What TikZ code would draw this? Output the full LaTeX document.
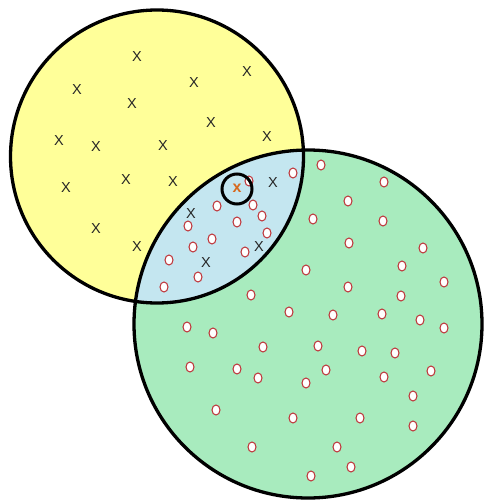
\documentclass[tikz,border=0pt]{standalone}
\usepackage{fontspec}
\setmainfont{Liberation Sans}
\usetikzlibrary{shapes.geometric}
\definecolor{setA}{RGB}{255,255,153}
\definecolor{setB}{RGB}{168,235,190}
\definecolor{setAB}{RGB}{196,230,240}
\definecolor{omark}{RGB}{190,50,55}
\definecolor{xorange}{RGB}{215,105,30}
\begin{document}
\begin{tikzpicture}[x=1pt,y=-1pt,
  xmark/.style={inner sep=0pt,text=black!85,font=\fontsize{14.5}{14.5}\selectfont},
  omk/.style={ellipse,draw=omark,fill=white,line width=1pt,minimum width=8pt,minimum height=10pt,inner sep=0pt},
  ring/.style={line width=3.3pt,draw=black}]
\useasboundingbox (0,0) rectangle (484,503);
\fill[white] (0,0) rectangle (484,503);
\coordinate (ca) at (157,156.5);
\coordinate (cb) at (308,324);
\fill[setA] (ca) circle (146.5);
\fill[setB] (cb) circle (174);
\begin{scope}
  \clip (ca) circle (146.5);
  \fill[setAB] (cb) circle (174);
\end{scope}
\draw[ring] (ca) circle (146.5);
\draw[ring] (cb) circle (174);
% X marks
\foreach \p [count=\i] in {(137,57),(77,90),(132,104),(194,83),(247,72),(211,123),(267,137),(59,141),(96,147),(163,146),(66,188),(126,180),(173,182),(96,229),(137,247),(273,183),(191,214),(206,263),(259,247)}
  \node[xmark] (x\i) at \p {X};
% O marks
\foreach \p [count=\i] in {(249,181),(217,206),(253,205),(262,216),(237,222),(188,226),(267,233),(212,239),(193,247),(245,252),(169,260),(198,277),(164,287),(293,173),
(321,165),(384,182),(348,201),(313,219),(383,221),(349,243),(423,248),(306,270),(402,266),(444,282),(251,295),(348,287),(401,296),(289,312),(333,315),(382,314),(420,320),(444,328),(187,327),(213,333),(263,347),(318,346),(362,351),(395,353),(190,367),(237,369),(258,378),(326,370),(306,383),(384,377),(431,371),(413,396),(216,410),(293,418),(360,418),(413,426),(252,447),(337,447),(351,467),(311,476)}
  \node[omk] (o\i) at \p {};
% highlighted point
\node[inner sep=0pt,text=xorange,font=\bfseries\fontsize{16}{16}\selectfont] (q) at (237,188) {x};
\node[circle,draw=black,line width=3pt,minimum size=30pt,inner sep=0pt] (qc) at (237,189) {};
\end{tikzpicture}
\end{document}
